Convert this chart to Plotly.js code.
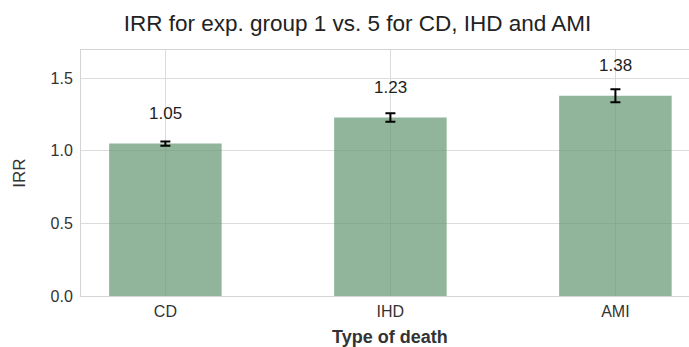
<!DOCTYPE html>
<html>
<head>
<meta charset="utf-8">
<script src="https://cdn.plot.ly/plotly-3.0.1.min.js"></script>
<style>html,body{margin:0;padding:0;background:#fff;overflow:hidden;}</style>
</head>
<body>
<div id="chart" style="width:689px;height:347px;"></div>
<script>
const categories = ["CD", "IHD", "AMI"];
const irrValues = [1.05, 1.23, 1.38];
const irrErrors = [0.015, 0.03, 0.045];
const valueLabels = ["1.05", "1.23", "1.38"];
const yTickVals = [0, 0.5, 1.0, 1.5];
const yTickText = ["0.0", "0.5", "1.0", "1.5"];

const xPos = categories.map((c, i) => i);
const FONT = "Liberation Sans, Arial, sans-serif";

const trace = {
  type: "bar",
  x: xPos,
  y: irrValues,
  width: 0.5,
  marker: {color: "rgba(98,149,111,0.7)", line: {width: 0}},
  error_y: {type: "data", array: irrErrors, visible: true, color: "#000", thickness: 2, width: 5},
  hoverinfo: "none"
};

const annotations = xPos.map((x, i) => ({
  x: x, y: irrValues[i] + 0.21, xref: "x", yref: "y",
  text: valueLabels[i], showarrow: false,
  font: {family: FONT, size: 17, color: "#222"},
  xanchor: "center", yanchor: "middle"
}));
annotations.push({
  x: 0.509, y: (347 - 337 - 51) / 246, xref: "paper", yref: "paper",
  text: "<b>Type of death</b>", showarrow: false,
  font: {family: FONT, size: 18, color: "#333"},
  xanchor: "center", yanchor: "middle"
});

const layout = {
  width: 689, height: 347,
  margin: {l: 81, r: 0, t: 50, b: 51, pad: 0},
  paper_bgcolor: "#fff", plot_bgcolor: "#fff",
  showlegend: false,
  title: {
    text: "IRR for exp. group 1 vs. 5 for CD, IHD and AMI",
    font: {family: FONT, size: 22.5, color: "#222"},
    x: 357.5 / 689, xref: "container", xanchor: "center",
    y: (347 - 23) / 347, yref: "container", yanchor: "middle"
  },
  xaxis: {
    range: [-0.375, 2.327],
    tickvals: xPos, ticktext: categories,
    showgrid: true, gridcolor: "#dcdcdc", gridwidth: 1,
    showline: true, linecolor: "#d4d4d4", linewidth: 1, mirror: true,
    ticks: "outside", ticklen: 1, tickcolor: "rgba(0,0,0,0)",
    tickfont: {family: FONT, size: 16, color: "#333"},
    zeroline: false, fixedrange: true
  },
  yaxis: {
    range: [0, 1.695],
    tickvals: yTickVals, ticktext: yTickText,
    showgrid: true, gridcolor: "#dcdcdc", gridwidth: 1,
    showline: true, linecolor: "#d4d4d4", linewidth: 1, mirror: true,
    ticks: "outside", ticklen: 4, tickcolor: "rgba(0,0,0,0)",
    tickfont: {family: FONT, size: 16, color: "#333"},
    title: {text: "IRR", font: {family: FONT, size: 17, color: "#333"}, standoff: 20},
    zeroline: false, fixedrange: true
  },
  annotations: annotations,
  bargap: 0.5
};

Plotly.newPlot("chart", [trace], layout, {displayModeBar: false, staticPlot: true});
</script>
</body>
</html>
